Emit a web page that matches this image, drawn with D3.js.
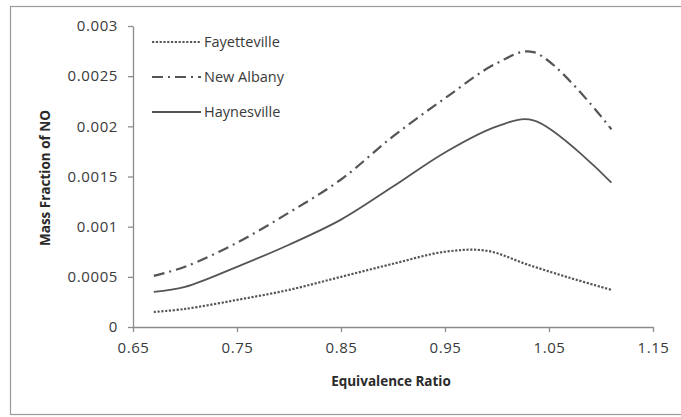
<!DOCTYPE html>
<html><head><meta charset="utf-8">
<script src="https://cdn.jsdelivr.net/npm/d3@7"></script>
<style>body{margin:0;background:#fff}svg{display:block}</style>
</head><body>
<svg id="c" width="681" height="417"></svg>
<script>
const ratios = [0.67, 0.70, 0.75, 0.80, 0.85, 0.90, 0.95, 1.00, 1.035, 1.11];
const newAlbany    = [0.00051, 0.00060, 0.00084, 0.00114, 0.00147, 0.00190, 0.00228, 0.00263, 0.00274, 0.00197];
const haynesville  = [0.00035, 0.00040, 0.00060, 0.00082, 0.00107, 0.00140, 0.00174, 0.00200, 0.00206, 0.00144];
const fayettevilleRatios = [0.67, 0.70, 0.75, 0.80, 0.85, 0.90, 0.95, 0.99, 1.03, 1.07, 1.11];
const fayetteville = [0.00015, 0.00018, 0.00027, 0.00037, 0.00050, 0.00063, 0.00075, 0.00076, 0.00062, 0.00049, 0.00037];
const seriesNames = ["Fayetteville", "New Albany", "Haynesville"];
const xTicks = [0.65, 0.75, 0.85, 0.95, 1.05, 1.15];
const yTicks = [0, 0.0005, 0.001, 0.0015, 0.002, 0.0025, 0.003];
const xTickLabels = ["0.65", "0.75", "0.85", "0.95", "1.05", "1.15"];
const yTickLabels = ["0", "0.0005", "0.001", "0.0015", "0.002", "0.0025", "0.003"];

const svg = d3.select("#c");
const font = "'Open Sans', sans-serif";
const ink = "#3a3a3a";
const lineCol = "#555";

svg.append("rect").attr("x", 10.5).attr("y", 6.5).attr("width", 680).attr("height", 408)
  .attr("fill", "#fff").attr("stroke", "#9a9a9a").attr("stroke-width", 1.2);

const x = d3.scaleLinear().domain([0.65, 1.15]).range([133, 653]);
const y = d3.scaleLinear().domain([0, 0.003]).range([327, 26]);

const xAxis = svg.append("g").attr("transform", "translate(0,327)")
  .call(d3.axisBottom(x).tickValues(xTicks).tickFormat((d, i) => xTickLabels[i]).tickSizeInner(5).tickSizeOuter(0).tickPadding(10));
const yAxis = svg.append("g").attr("transform", "translate(133,0)")
  .call(d3.axisLeft(y).tickValues(yTicks).tickFormat((d, i) => yTickLabels[i]).tickSizeInner(5).tickSizeOuter(0).tickPadding(10));
[xAxis, yAxis].forEach(a => {
  a.select(".domain").attr("stroke", "#8c8c8c").attr("stroke-width", 1.3);
  a.selectAll(".tick line").attr("stroke", "#8c8c8c").attr("stroke-width", 1.3);
  a.selectAll(".tick text").attr("fill", ink).style("font-family", font).style("font-size", "15px")
    .style("letter-spacing", "0.6px");
});

svg.append("text").attr("x", 391).attr("y", 386).attr("text-anchor", "middle")
  .style("font-family", font).style("font-size", "13.5px").style("font-weight", "bold").attr("fill", "#2a2a2a")
  .text("Equivalence Ratio");
svg.append("text").attr("transform", "translate(50,178) rotate(-90)").attr("text-anchor", "middle")
  .style("font-family", font).style("font-size", "13.5px").style("font-weight", "bold").attr("fill", "#2a2a2a")
  .text("Mass Fraction of NO");

const styles = [
  {dash: "2.2,1.6", w: 2.2},
  {dash: "11,5,2,5", w: 2.2},
  {dash: null, w: 1.8}
];
const series = [
  fayettevilleRatios.map((r, j) => [r, fayetteville[j]]),
  ratios.map((r, j) => [r, newAlbany[j]]),
  ratios.map((r, j) => [r, haynesville[j]])
];
const line = d3.line().x(d => x(d[0])).y(d => y(d[1])).curve(d3.curveCatmullRom.alpha(0.5));
series.forEach((pts, i) => {
  svg.append("path").datum(pts)
    .attr("d", line).attr("fill", "none").attr("stroke", lineCol)
    .attr("stroke-width", styles[i].w).attr("stroke-dasharray", styles[i].dash);
});

const legY = [42, 77, 112];
seriesNames.forEach((n, i) => {
  svg.append("line").attr("x1", 152).attr("x2", 201).attr("y1", legY[i]).attr("y2", legY[i])
    .attr("stroke", lineCol).attr("stroke-width", styles[i].w).attr("stroke-dasharray", styles[i].dash);
  svg.append("text").attr("x", 204).attr("y", legY[i] + 5).style("font-family", font).style("font-size", "14.5px")
    .attr("fill", ink).text(n);
});
</script>
</body></html>
